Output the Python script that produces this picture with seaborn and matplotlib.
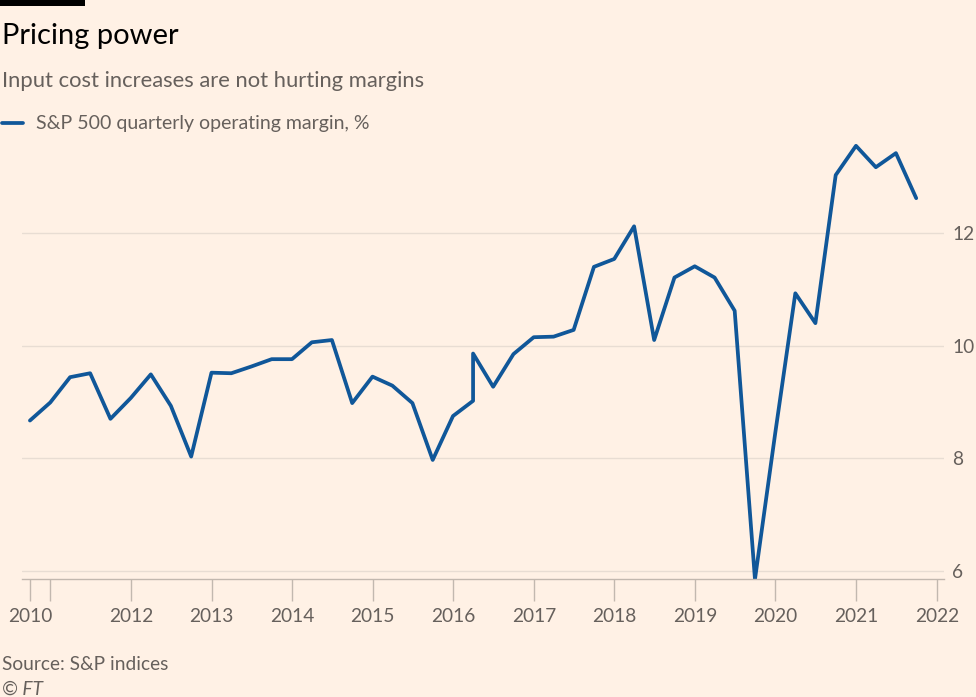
import matplotlib.pyplot as plt
from matplotlib.patches import Rectangle
import pandas as pd
import seaborn as sns

# S&P 500 quarterly operating margin, %
quarters = [
    "2010-09-30", "2010-12-31", "2011-03-31", "2011-06-30", "2011-09-30",
    "2011-12-31", "2012-03-31", "2012-06-30", "2012-09-30", "2012-12-31",
    "2013-03-31", "2013-06-30", "2013-09-30", "2013-12-31", "2014-03-31",
    "2014-06-30", "2014-09-30", "2014-12-31", "2015-03-31", "2015-06-30",
    "2015-09-30", "2015-12-31", "2016-03-31", "2016-03-31", "2016-06-30",
    "2016-09-30", "2016-12-31", "2017-03-31", "2017-06-30", "2017-09-30",
    "2017-12-31", "2018-03-31", "2018-06-30", "2018-09-30", "2018-12-31",
    "2019-03-31", "2019-06-30", "2019-09-30", "2019-12-31", "2020-03-31",
    "2020-06-30", "2020-09-30", "2020-12-31", "2021-03-31", "2021-06-30",
    "2021-09-30",
]
margins = [
    8.67, 8.99, 9.44, 9.51, 8.70,
    9.07, 9.49, 8.93, 8.03, 9.52,
    9.51, 9.63, 9.76, 9.76, 10.06,
    10.10, 8.98, 9.45, 9.29, 8.98,
    7.97, 8.75, 9.02, 9.86, 9.27,
    9.85, 10.15, 10.16, 10.28, 11.40,
    11.54, 12.12, 10.10, 11.21, 11.41,
    11.21, 10.62, 5.85, 8.45, 10.93,
    10.40, 13.03, 13.55, 13.17, 13.42,
    12.62,
]
y_ticks = [6, 8, 10, 12]
x_years = list(range(2011, 2023))

BG = "#FFF1E5"
LINE = "#105799"
GREY = "#66605C"
GRID = "#E8DDD3"
AXIS = "#C2B8AF"

df = pd.DataFrame({"quarter": pd.to_datetime(quarters), "margin": margins})

sns.set_theme(style="white")
plt.rcParams["font.family"] = ["Lato", "DejaVu Sans"]

W, H = 976, 697
fig = plt.figure(figsize=(W / 100, H / 100), dpi=100, facecolor=BG)
ax = fig.add_axes([22 / W, 1 - 579 / H, 922 / W, 436 / H], facecolor=BG)

sns.lineplot(
    data=df,
    x="quarter",
    y="margin",
    estimator=None,
    sort=False,
    color=LINE,
    linewidth=2.7,
    label="S&P 500 quarterly operating margin, %",
    ax=ax,
)

ax.set_ylim(5.855, 13.6)
ax.set_xlim(pd.Timestamp("2010-08-25"), pd.Timestamp("2022-02-03"))

ax.set_yticks(y_ticks)
ax.set_yticklabels([str(t) for t in y_ticks])
ax.yaxis.tick_right()
ax.grid(axis="y", color=GRID, linewidth=1)
ax.set_axisbelow(True)

# first tick sits on the first quarter, the rest on year starts (2011 unlabeled)
x_ticks = [df["quarter"].iloc[0]] + [pd.Timestamp(f"{y}-01-01") for y in x_years]
x_labels = ["2010"] + [("" if y == 2011 else str(y)) for y in x_years]
ax.set_xticks(x_ticks)
ax.set_xticklabels(x_labels)

ax.tick_params(axis="x", length=16, width=1, color=AXIS, labelcolor=GREY,
               labelsize=13.8, pad=5, bottom=True)
ax.tick_params(axis="y", length=0, labelcolor=GREY, labelsize=13.8, pad=6)
ax.set_xlabel("")
ax.set_ylabel("")

for side in ["top", "left", "right"]:
    ax.spines[side].set_visible(False)
ax.spines["bottom"].set_color(AXIS)
ax.spines["bottom"].set_linewidth(1)

# legend
leg = ax.legend(
    loc="center left",
    bbox_to_anchor=(2 / W, 1 - 124 / H),
    bbox_transform=fig.transFigure,
    frameon=False,
    fontsize=14,
    handlelength=1.1,
    handletextpad=0.65,
    borderpad=0,
    borderaxespad=0,
)
for txt in leg.get_texts():
    txt.set_color(GREY)

# header and footer
fig.add_artist(Rectangle((0, 1 - 6 / H), 85 / W, 6 / H, transform=fig.transFigure,
                         facecolor="black", edgecolor="none"))
fig.text(2 / W, 1 - 36 / H, "Pricing power", fontsize=21, color="#000000", va="center")
fig.text(2 / W, 1 - 81 / H, "Input cost increases are not hurting margins",
         fontsize=15.8, color=GREY, va="center")
fig.text(2 / W, 1 - 665 / H, "Source: S&P indices", fontsize=13.8, color=GREY, va="center")
fig.text(2 / W, 1 - 689 / H, "© FT", fontsize=13.8, color=GREY, va="center", style="italic")

fig.savefig("out.png", dpi=100, facecolor=BG)
